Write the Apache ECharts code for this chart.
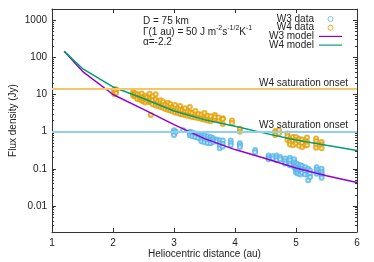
<!DOCTYPE html>
<html><head><meta charset="utf-8">
<script src="https://cdn.jsdelivr.net/npm/echarts@6/dist/echarts.min.js"></script>
<style>html,body{margin:0;padding:0;background:#fff}#c{width:374px;height:262px}</style>
</head><body><div id="c"></div>
<script>
const xTicks = [1, 2, 3, 4, 5, 6];
const yTickLabels = ['0.01', '0.1', '1', '10', '100', '1000'];
const modelAu = [1.2, 1.5, 2.0, 2.5, 3.0, 3.5, 4.0, 4.5, 5.0, 5.5, 6.0];
const w3Model = [145, 42, 10, 4.0, 1.55, 0.65, 0.33, 0.19, 0.105, 0.065, 0.043];
const w4Model = [145, 50, 16, 7.8, 3.6, 2.1, 1.4, 0.9, 0.6, 0.43, 0.31];
const w4Saturation = 14;
const w3Saturation = 1;
// [au, [flux values observed at that distance]]
const w4Groups = [
  [2.02,[13.5,12.0,10.4]],[2.05,[12.8,11.0,13.9]],
  [2.33,[11.7,10.5,9.2]],[2.36,[10.8,8.9,9.8]],[2.40,[9.5,8.2,10.2,7.6]],
  [2.44,[8.8,9.9,7.4]],[2.47,[8.1,9.1,6.9,10.6]],[2.50,[7.8,8.6,6.5]],
  [2.53,[9.3,7.2,6.1,8.0]],[2.56,[7.5,6.8,8.4]],[2.60,[6.9,7.9,6.2,10.5]],
  [2.62,[2.8,6.4,7.4]],[2.65,[6.0,7.0,5.5,9.0]],[2.70,[10.2,6.3,5.6,7.3,5.1]],
  [2.74,[5.8,6.6,4.9]],[2.78,[5.3,6.1,4.6,7.0]],[2.82,[5.0,5.7,4.4,6.5]],
  [2.86,[4.7,5.4,4.1]],[2.90,[6.0,4.5,5.0,3.9]],[2.94,[4.3,4.8,3.7,5.6]],
  [2.98,[4.1,4.6,3.5]],[3.02,[3.9,4.4,3.3,5.2]],[3.06,[3.7,4.2,3.2]],
  [3.10,[3.6,4.0,3.0,4.9]],[3.14,[3.4,3.8,2.9]],[3.18,[3.3,3.6,2.8,4.3]],
  [3.22,[3.1,3.5,2.7]],[3.26,[4.6,3.0,3.3,2.6]],[3.30,[2.9,3.2,2.5]],
  [3.35,[2.8,3.1,2.4,3.6]],[3.40,[2.7,3.0,2.3]],[3.45,[2.6,2.9,2.2]],
  [3.50,[2.5,2.8,2.1,3.2]],[3.55,[2.4,2.7,2.0]],[3.60,[2.3,2.6,1.9]],
  [3.67,[2.8,2.2,2.5]],[3.73,[2.1,2.4]],[3.80,[2.3,2.2,1.6]],
  [3.95,[2.0,1.7]],[4.08,[1.2,1.0]],
  [4.66,[1.05,0.95,0.82]],[4.72,[1.1,0.9]],[4.86,[0.9,0.75,0.6]],
  [4.90,[0.65,0.53,0.45]],[4.95,[0.72,0.58,0.43]],[5.00,[0.72,0.6,0.48]],
  [5.05,[0.65,0.55,0.42]],[5.10,[0.62,0.5,0.39]],[5.15,[0.58,0.43]],
  [5.18,[0.7,0.53,0.43]],[5.33,[0.66,0.55,0.45,0.37]],[5.42,[0.53,0.45,0.36]]
];
const w3Groups = [
  [3.00,[1.1,0.95,0.82]],[3.03,[1.0]],[3.15,[1.1]],
  [3.26,[1.0,0.9,0.8]],[3.30,[0.95,0.85,0.75]],[3.35,[0.9,0.8,0.72]],
  [3.40,[0.88,0.78,0.68]],[3.45,[0.82,0.72,0.63,0.55]],[3.50,[0.8,0.7,0.6,0.52]],
  [3.55,[0.75,0.66,0.58,0.5]],[3.60,[0.72,0.62,0.55,0.49]],[3.64,[0.68,0.6,0.53]],
  [3.70,[0.62,0.55]],[3.75,[0.59,0.5,0.43,0.36]],[3.80,[0.58,0.47,0.4]],
  [3.93,[0.58,0.5,0.43]],[4.08,[0.49,0.43,0.39]],[4.33,[0.32,0.28]],
  [4.55,[0.23,0.2,0.18]],[4.62,[0.22,0.19]],[4.68,[0.23,0.2,0.17]],
  [4.74,[0.21,0.18]],[4.82,[0.19,0.16,0.14]],[4.90,[0.2,0.17,0.14,0.125]],
  [4.97,[0.18,0.15,0.13,0.11]],[5.00,[0.14,0.12,0.1,0.09,0.08]],
  [5.03,[0.13,0.11,0.1,0.085,0.075]],[5.07,[0.125,0.105,0.095,0.08,0.07]],
  [5.10,[0.12,0.1,0.09,0.078]],[5.15,[0.11,0.095,0.085,0.07]],
  [5.20,[0.1,0.085,0.07,0.049]],[5.23,[0.09,0.075,0.06]],
  [5.34,[0.11,0.095,0.082,0.074]],[5.42,[0.1,0.085,0.075,0.066,0.058]]
];

const flat = g => g.flatMap(([x, ys]) => ys.map(y => [x, y]));
const w4Data = flat(w4Groups);
const w3Data = flat(w3Groups);
const zip = (xs, ys) => xs.map((x, i) => [x, ys[i]]);

const FONT = 'Liberation Sans, Arial, sans-serif';
const TXT = '#222';
const frame = {show: true, lineStyle: {color: '#333', width: 1}};
const C3 = '#56b4e9', C4 = '#e69f00', M3 = '#9400d3', M4 = '#009e73';
const LINE_ICON = 'path://M0 0H40V2H0Z';

const chart = echarts.init(document.getElementById('c'), null, {renderer: 'canvas'});
chart.setOption({
  animation: false,
  backgroundColor: '#fff',
  textStyle: {fontFamily: FONT},
  grid: {left: 52, right: 17, top: 9, bottom: 30, outerBoundsMode: 'none', containLabel: false},
  legend: {
    orient: 'vertical', align: 'right', right: 27, top: 9,
    itemWidth: 23, itemHeight: 5, itemGap: -1.3,
    textStyle: {fontSize: 10, color: TXT, lineHeight: 9.3, fontFamily: FONT},
    data: [
      {name: 'W3 data', icon: 'circle', itemStyle: {color: 'rgba(0,0,0,0)', borderColor: C3, borderWidth: 1}},
      {name: 'W4 data', icon: 'circle', itemStyle: {color: 'rgba(0,0,0,0)', borderColor: C4, borderWidth: 1}},
      {name: 'W3 model', icon: LINE_ICON, itemStyle: {color: M3, borderWidth: 0}},
      {name: 'W4 model', icon: LINE_ICON, itemStyle: {color: M4, borderWidth: 0}}
    ]
  },
  xAxis: [{
    type: 'value', min: xTicks[0], max: xTicks[xTicks.length - 1], interval: 1, position: 'bottom',
    axisLine: frame, axisTick: {inside: true, length: 4, lineStyle: {color: '#333'}},
    axisLabel: {fontSize: 10, color: TXT, margin: 6, fontFamily: FONT},
    splitLine: {show: false},
    name: 'Heliocentric distance (au)', nameLocation: 'middle', nameGap: 17, nameMoveOverlap: false,
    nameTextStyle: {fontSize: 10, color: TXT, fontFamily: FONT}
  }, {
    type: 'value', min: xTicks[0], max: xTicks[xTicks.length - 1], interval: 1, position: 'top',
    axisLine: frame, axisTick: {inside: true, length: 4, lineStyle: {color: '#333'}},
    axisLabel: {show: false}, splitLine: {show: false}
  }],
  yAxis: [{
    type: 'log', logBase: 10, min: 0.002, max: 2000, position: 'left',
    axisLine: frame, axisTick: {inside: true, length: 4, lineStyle: {color: '#333'}},
    minorTick: {show: true, splitNumber: 9, length: 2, lineStyle: {color: '#333'}},
    axisLabel: {fontSize: 10, color: TXT, margin: 5, fontFamily: FONT, showMinLabel: false, showMaxLabel: false,
      formatter: v => { const s = yTickLabels.find(t => Math.abs(parseFloat(t) - v) / v < 1e-6); return s || ''; }},
    splitLine: {show: false},
    name: 'Flux density (Jy)', nameLocation: 'middle', nameGap: 34, nameMoveOverlap: false,
    nameTextStyle: {fontSize: 10, color: TXT, fontFamily: FONT}
  }, {
    type: 'log', logBase: 10, min: 0.002, max: 2000, position: 'right',
    axisLine: frame, axisTick: {inside: true, length: 4, lineStyle: {color: '#333'}},
    minorTick: {show: true, splitNumber: 9, length: 2, lineStyle: {color: '#333'}},
    axisLabel: {show: false}, splitLine: {show: false}
  }],
  graphic: [
    {type: 'text', left: 143, top: 16, style: {text: 'D = 75 km', font: '10px ' + FONT, fill: TXT}},
    {type: 'text', left: 143, top: 25, style: {
      text: '{t|Γ(1 au) = 50 J m}{s|-2}{t|s}{s|-1/2}{t|K}{s|-1}',
      rich: {
        t: {fontSize: 10, fontFamily: FONT, fill: TXT, color: TXT, lineHeight: 14},
        s: {fontSize: 7, fontFamily: FONT, fill: TXT, color: TXT, lineHeight: 7, verticalAlign: 'top'}
      }}},
    {type: 'text', left: 143, top: 37, style: {text: 'α=-2.2', font: '10px ' + FONT, fill: TXT}}
  ],
  series: [{
    name: 'W3 data', type: 'scatter', symbol: 'emptyCircle', symbolSize: 4,
    itemStyle: {color: C3, borderColor: C3, borderWidth: 0.9}, data: w3Data, z: 3
  }, {
    name: 'W4 data', type: 'scatter', symbol: 'emptyCircle', symbolSize: 4,
    itemStyle: {color: C4, borderColor: C4, borderWidth: 0.9}, data: w4Data, z: 3
  }, {
    name: 'W3 model', type: 'line', symbol: 'none', data: zip(modelAu, w3Model), z: 4,
    lineStyle: {color: M3, width: 1.5}, itemStyle: {color: M3},
    markLine: {silent: true, symbol: 'none', animation: false,
      data: [{yAxis: w3Saturation, lineStyle: {color: '#8fd0ef', width: 2, type: 'solid'},
        label: {formatter: 'W3 saturation onset', position: 'insideEndTop', color: TXT, fontSize: 10, distance: [9, 1], fontFamily: FONT}}]}
  }, {
    name: 'W4 model', type: 'line', symbol: 'none', data: zip(modelAu, w4Model), z: 4,
    lineStyle: {color: M4, width: 1.5}, itemStyle: {color: M4},
    markLine: {silent: true, symbol: 'none', animation: false,
      data: [{yAxis: w4Saturation, lineStyle: {color: '#f2c66d', width: 2, type: 'solid'},
        label: {formatter: 'W4 saturation onset', position: 'insideEndTop', color: TXT, fontSize: 10, distance: [9, 1], fontFamily: FONT}}]}
  }]
});
</script></body></html>
